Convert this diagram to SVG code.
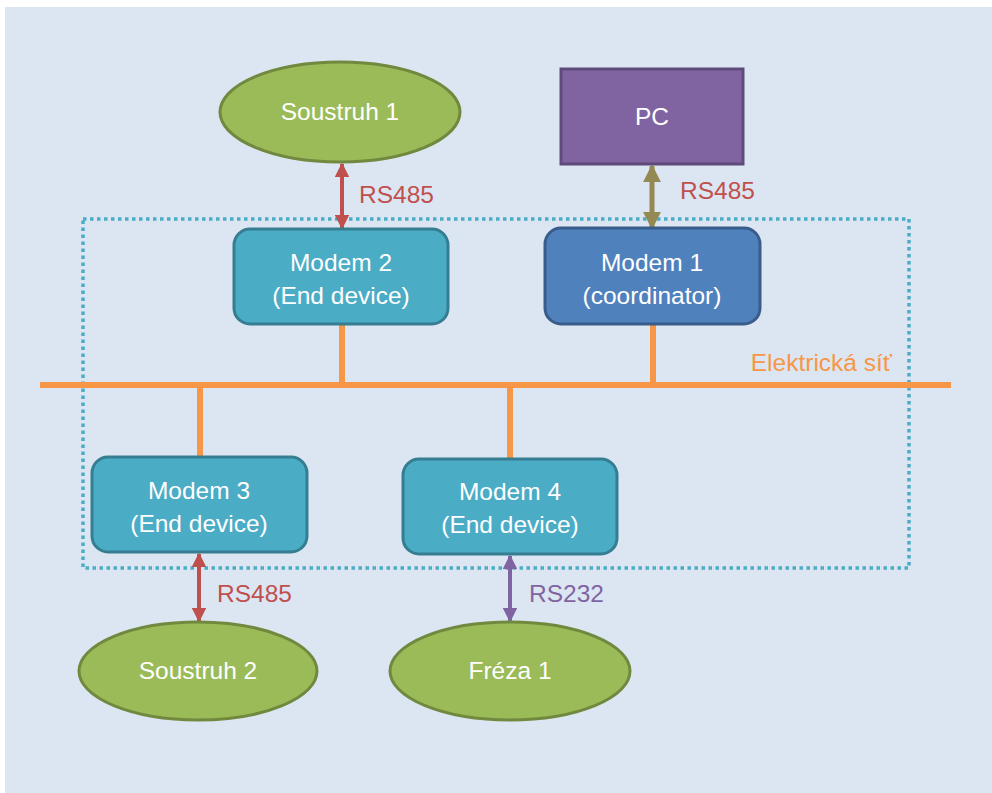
<svg xmlns="http://www.w3.org/2000/svg" width="992" height="793" viewBox="0 0 992 793">
<defs>
<style>
text{font-family:"Liberation Sans",Arial,sans-serif;font-size:24.5px}
.wt{fill:#ffffff;text-anchor:middle}
.ell{fill:#9bbb59;stroke:#71893f;stroke-width:3}
.modem{fill:#4bacc6;stroke:#357d91;stroke-width:3}
.bus{stroke:#f79646;stroke-width:6;fill:none}
</style>
<marker id="ar" viewBox="0 0 10 10" refX="9" refY="5" markerWidth="3.6" markerHeight="3.6" orient="auto-start-reverse" markerUnits="strokeWidth"><path d="M0,0L10,5L0,10z" fill="#c0504d"/></marker>
<marker id="ao" viewBox="0 0 10 10" refX="9" refY="5" markerWidth="3.6" markerHeight="3.6" orient="auto-start-reverse" markerUnits="strokeWidth"><path d="M0,0L10,5L0,10z" fill="#938953"/></marker>
<marker id="ap" viewBox="0 0 10 10" refX="9" refY="5" markerWidth="3.6" markerHeight="3.6" orient="auto-start-reverse" markerUnits="strokeWidth"><path d="M0,0L10,5L0,10z" fill="#8064a2"/></marker>
</defs>
<rect width="992" height="793" fill="#ffffff"/>
<rect x="5" y="7" width="987" height="786" fill="#dce6f2"/>
<rect x="83" y="219" width="826" height="349" fill="none" stroke="#4bacc6" stroke-width="3.5" stroke-dasharray="3.5 3.5"/>
<g id="connectors">
<line class="bus" x1="40" y1="385" x2="951" y2="385"/>
<line class="bus" x1="342" y1="324" x2="342" y2="385"/>
<line class="bus" x1="653" y1="324" x2="653" y2="385"/>
<line class="bus" x1="200" y1="385" x2="200" y2="458"/>
<line class="bus" x1="510" y1="385" x2="510" y2="460"/>
<line x1="342" y1="164" x2="342" y2="228" stroke="#c0504d" stroke-width="4" marker-start="url(#ar)" marker-end="url(#ar)"/>
<line x1="652" y1="166" x2="652" y2="228" stroke="#938953" stroke-width="5" marker-start="url(#ao)" marker-end="url(#ao)"/>
<line x1="199" y1="554" x2="199" y2="621" stroke="#c0504d" stroke-width="4" marker-start="url(#ar)" marker-end="url(#ar)"/>
<line x1="510" y1="556" x2="510" y2="621" stroke="#8064a2" stroke-width="4" marker-start="url(#ap)" marker-end="url(#ap)"/>
<text x="359" y="203" fill="#c0504d">RS485</text>
<text x="680" y="199" fill="#c0504d">RS485</text>
<text x="217" y="602" fill="#c0504d">RS485</text>
<text x="529" y="602" fill="#8064a2">RS232</text>
<text x="892" y="371" fill="#f79646" text-anchor="end">Elektrická síť</text>
</g>
<g id="soustruh1">
<ellipse class="ell" cx="340" cy="112" rx="120" ry="50"/>
<text class="wt" x="340" y="120">Soustruh 1</text>
</g>
<g id="pc">
<rect x="561" y="69" width="182" height="95" fill="#8064a2" stroke="#5f4b7a" stroke-width="3"/>
<text class="wt" x="652" y="125">PC</text>
</g>
<g id="modem2">
<rect class="modem" x="234" y="229" width="214" height="95" rx="16"/>
<text class="wt" x="341" y="271">Modem 2</text>
<text class="wt" x="341" y="304">(End device)</text>
</g>
<g id="modem1">
<rect x="545" y="228" width="215" height="96" rx="16" fill="#4f81bd" stroke="#385d8a" stroke-width="3"/>
<text class="wt" x="652" y="271">Modem 1</text>
<text class="wt" x="652" y="304">(coordinator)</text>
</g>
<g id="modem3">
<rect class="modem" x="92" y="457" width="215" height="95" rx="16"/>
<text class="wt" x="199" y="499">Modem 3</text>
<text class="wt" x="199" y="532">(End device)</text>
</g>
<g id="modem4">
<rect class="modem" x="403" y="459" width="214" height="95" rx="16"/>
<text class="wt" x="510" y="500">Modem 4</text>
<text class="wt" x="510" y="533">(End device)</text>
</g>
<g id="soustruh2">
<ellipse class="ell" cx="198" cy="671" rx="119" ry="49"/>
<text class="wt" x="198" y="679">Soustruh 2</text>
</g>
<g id="freza1">
<ellipse class="ell" cx="510" cy="671" rx="120" ry="49"/>
<text class="wt" x="510" y="679">Fréza 1</text>
</g>
</svg>
